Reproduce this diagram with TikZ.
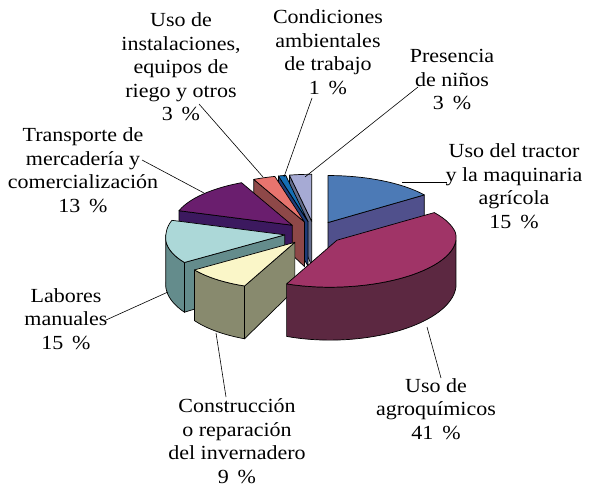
\documentclass[tikz,border=0pt]{standalone}
\usepackage{fontspec}
\setmainfont[FakeStretch=1.1]{Liberation Serif}
\definecolor{tractortop}{RGB}{76,122,182}
\definecolor{tractorside}{RGB}{80,80,140}
\definecolor{agrotop}{RGB}{160,52,103}
\definecolor{agroside}{RGB}{92,40,65}
\definecolor{constrtop}{RGB}{250,246,200}
\definecolor{constrside}{RGB}{136,138,110}
\definecolor{labortop}{RGB}{172,216,216}
\definecolor{laborside}{RGB}{100,140,140}
\definecolor{transptop}{RGB}{106,30,110}
\definecolor{transpside}{RGB}{60,25,95}
\definecolor{instaltop}{RGB}{232,116,110}
\definecolor{instalside}{RGB}{142,72,72}
\definecolor{condictop}{RGB}{20,110,180}
\definecolor{condicside}{RGB}{30,60,120}
\definecolor{ninostop}{RGB}{166,170,212}
\definecolor{ninosside}{RGB}{100,108,140}
\tikzset{
  face/.style={draw=black,line width=0.7pt,line join=round},
  leader/.style={draw=black,line width=0.6pt},
  lbl/.style={align=center,inner sep=0pt,font=\fontsize{20}{23.5}\selectfont},
  declare function={
    projx(\x,\y)=314.5+119*\x-7*max(\y,0);
    projy(\x,\y,\z)=233+47*\y+\z*(46+6*\y);
  }
}
\newcommand{\explode}[2]{%
  \pgfmathsetmacro{\exx}{0.25*sin((#1+#2)/2)}%
  \pgfmathsetmacro{\eyy}{-0.25*cos((#1+#2)/2)}}
\newcommand{\sideface}[2]{%
  \filldraw[face,fill=#2] ({projx(\exx,\eyy)},{projy(\exx,\eyy,0)})
    -- ({projx(\exx+sin(#1),\eyy-cos(#1))},{projy(\exx+sin(#1),\eyy-cos(#1),0)})
    -- ({projx(\exx+sin(#1),\eyy-cos(#1))},{projy(\exx+sin(#1),\eyy-cos(#1),1)})
    -- ({projx(\exx,\eyy)},{projy(\exx,\eyy,1)}) -- cycle;}
\newcommand{\outerface}[3]{%
  \filldraw[face,fill=#3]
    plot[variable=\t,domain=#1:#2,samples=40] ({projx(\exx+sin(\t),\eyy-cos(\t))},{projy(\exx+sin(\t),\eyy-cos(\t),0)})
    -- plot[variable=\t,domain=#2:#1,samples=40] ({projx(\exx+sin(\t),\eyy-cos(\t))},{projy(\exx+sin(\t),\eyy-cos(\t),1)})
    -- cycle;}
\newcommand{\topface}[3]{%
  \filldraw[face,fill=#3] ({projx(\exx,\eyy)},{projy(\exx,\eyy,0)})
    -- plot[variable=\t,domain=#1:#2,samples=40] ({projx(\exx+sin(\t),\eyy-cos(\t))},{projy(\exx+sin(\t),\eyy-cos(\t),0)})
    -- cycle;}

\begin{document}
\begin{tikzpicture}[x=1pt,y=-1pt]
\useasboundingbox (0,0) rectangle (593,489);

\explode{349.2}{360}\sideface{349.2}{ninosside}\topface{349.2}{360}{ninostop}
\explode{345.6}{349.2}\sideface{345.6}{condicside}\topface{345.6}{349.2}{condictop}
\explode{334.8}{345.6}\sideface{334.8}{instalside}\topface{334.8}{345.6}{instaltop}
\explode{0}{54}\sideface{54}{tractorside}\topface{0}{54}{tractortop}
\explode{288}{334.8}\sideface{288}{transpside}\topface{288}{334.8}{transptop}
\explode{234}{288}\sideface{234}{laborside}\outerface{234}{270}{laborside}\topface{234}{288}{labortop}
\explode{201.6}{234}\sideface{201.6}{constrside}\outerface{201.6}{234}{constrside}\topface{201.6}{234}{constrtop}
\explode{54}{201.6}\outerface{90}{201.6}{agroside}\topface{54}{201.6}{agrotop}

\node[lbl] (instal) at (181,67) {Uso de\\instalaciones,\\equipos de\\riego y otros\\3~\,\%};
\node[lbl] (condic) at (328,52) {Condiciones\\ambientales\\de trabajo\\1~\,\%};
\node[lbl] (ninos) at (452,80) {Presencia\\de niños\\3~\,\%};
\node[lbl] (tractor) at (514,186) {Uso del tractor\\y la maquinaria\\agrícola\\15~\,\%};
\node[lbl] (agro) at (436,409) {Uso de\\agroquímicos\\41~\,\%};
\node[lbl] (constr) at (237,441) {Construcción\\o reparación\\del invernadero\\9~\,\%};
\node[lbl] (labores) at (66,319) {Labores\\manuales\\15~\,\%};
\node[lbl] (transp) at (83,170) {Transporte de\\mercadería y\\comercialización\\13~\,\%};

\coordinate (instal-a) at (199,104);   \coordinate (instal-b) at (263,177);
\coordinate (condic-a) at (312,98);    \coordinate (condic-b) at (284,177);
\coordinate (ninos-a) at (418,87);     \coordinate (ninos-b) at (305,177);
\coordinate (tractor-a) at (447,182);  \coordinate (tractor-b) at (402,182);
\coordinate (agro-a) at (441,378);     \coordinate (agro-b) at (427,327);
\coordinate (constr-a) at (226,397);   \coordinate (constr-b) at (216,333);
\coordinate (labores-a) at (106,320);  \coordinate (labores-b) at (168,292);
\coordinate (transp-a) at (142,160);   \coordinate (transp-b) at (204,193);
\foreach \s in {instal,condic,ninos,tractor,agro,constr,labores,transp}
  \draw[leader] (\s-a) -- (\s-b);
\end{tikzpicture}
\end{document}
